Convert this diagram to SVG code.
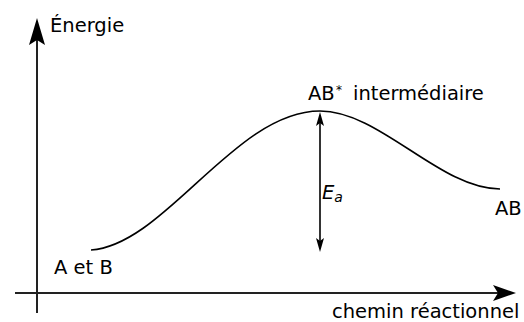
<svg xmlns="http://www.w3.org/2000/svg" width="524" height="322" viewBox="0 0 524 322">
<style>
text{font-family:"DejaVu Sans","Noto Sans",sans-serif;font-size:19.5px;fill:#000}
text.sup{font-size:12px}
.ax{stroke:#222;stroke-width:2;fill:none}
.ln{stroke:#000;stroke-width:1.6;fill:none}
.hd{fill:#000;stroke:none}
</style>
<rect width="524" height="322" fill="#fff"/>
<g id="connectors">
<line class="ax" x1="37" y1="313" x2="37" y2="30"/>
<path class="hd" d="M37,18 L45,45 L37,40 L29,45 Z"/>
<line class="ax" x1="15" y1="293" x2="503" y2="293"/>
<path class="hd" d="M516,293 L493,301 L498,293 L493,285 Z"/>
<path class="ln" d="M91,250 C165,245 235,111 320,111 C380,111 440,189 500,189"/>
<line class="ln" x1="320" y1="120" x2="320" y2="244"/>
<path class="hd" d="M320,112 L324,126 L320,123 L316,126 Z"/>
<path class="hd" d="M320,252 L324,238 L320,241 L316,238 Z"/>
</g>
<g id="energie"><text x="50" y="32">Énergie</text></g>
<g id="intermediaire"><text x="308" y="100">AB</text><text class="sup" x="336" y="94">*</text><text x="353" y="100">intermédiaire</text></g>
<g id="ab"><text x="495" y="215">AB</text></g>
<g id="ea"><text x="322" y="199" font-style="italic">E<tspan font-size="14" dy="3">a</tspan></text></g>
<g id="aetb"><text x="54" y="274">A et B</text></g>
<g id="chemin"><text x="332" y="318">chemin réactionnel</text></g>
</svg>
